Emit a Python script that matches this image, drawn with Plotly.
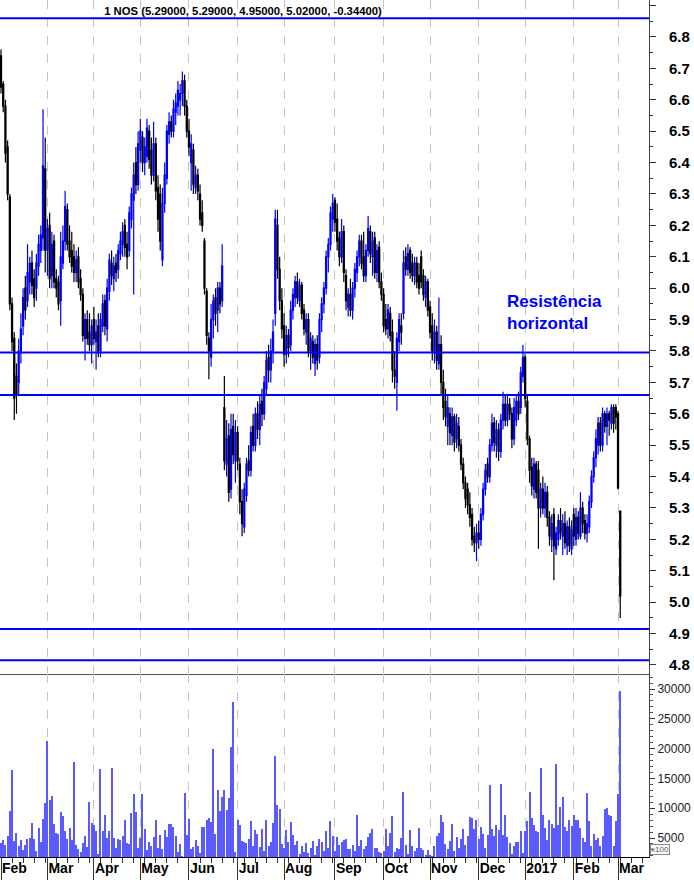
import pandas as pd
import plotly.graph_objects as go

# ---------------- data ----------------
open_ = [
 6.74,6.65,6.58,6.45,6.29,5.95,5.84,5.72,5.70,5.80,5.88,6.00,5.96,6.02,6.08,6.03,6.00,6.07,6.12,6.16,6.38,
 6.12,6.20,6.04,6.15,6.03,6.02,5.96,6.08,6.15,6.25,6.15,6.12,6.10,6.05,6.10,6.03,5.98,5.84,5.90,5.86,5.82,
 5.90,5.83,5.88,5.80,5.88,5.96,5.87,5.99,6.08,6.03,6.08,6.06,6.11,6.14,6.20,6.14,6.12,6.22,6.28,6.40,6.33,
 6.44,6.48,6.40,6.42,6.50,6.44,6.36,6.46,6.32,6.30,6.09,6.27,6.35,6.49,6.53,6.50,6.56,6.58,6.60,6.62,6.66,6.58,
 6.50,6.40,6.44,6.32,6.36,6.30,6.24,6.15,5.99,5.84,5.78,5.90,5.97,5.93,6.00,5.96,5.62,5.44,5.53,5.36,5.56,5.45,
 5.54,5.44,5.32,5.24,5.34,5.45,5.42,5.56,5.50,5.60,5.55,5.64,5.60,5.68,5.78,5.74,5.80,5.92,6.20,6.06,5.96,
 5.88,5.79,5.85,5.82,5.93,5.97,6.02,5.96,6.01,5.93,5.86,5.90,5.80,5.83,5.76,5.82,5.78,5.90,5.95,6.00,6.10,6.14,6.22,
 6.28,6.22,6.16,6.10,6.18,6.04,5.94,5.98,5.93,6.00,6.05,6.10,6.15,6.10,6.04,6.12,6.18,6.10,6.16,6.05,6.13,6.02,
 5.98,5.90,5.87,5.92,5.86,5.74,5.70,5.83,5.88,5.92,6.10,6.06,6.12,6.08,6.04,6.08,6.04,6.10,6.04,5.97,6.02,
 5.94,5.88,5.80,5.86,5.76,5.82,5.70,5.64,5.56,5.60,5.53,5.59,5.52,5.56,5.50,5.44,5.38,5.36,5.31,5.28,5.21,5.19,
 5.22,5.20,5.28,5.36,5.44,5.40,5.50,5.57,5.50,5.55,5.48,5.58,5.63,5.58,5.63,5.60,5.52,5.58,5.64,5.62,5.72,
 5.78,5.64,5.52,5.43,5.36,5.44,5.42,5.30,5.36,5.30,5.35,5.27,5.20,5.28,5.17,5.20,5.26,5.21,5.25,5.18,5.24,5.17,
 5.28,5.20,5.27,5.21,5.30,5.26,5.22,5.24,5.32,5.40,5.46,5.50,5.57,5.50,5.60,5.56,5.60,5.57,5.62,5.62,
 5.60,5.29]
high = [
 6.76,6.66,6.60,6.47,6.30,5.97,5.86,5.76,5.84,5.92,6.00,6.04,6.14,6.10,6.12,6.06,6.11,6.17,6.20,6.57,6.48,
 6.22,6.24,6.18,6.17,6.06,6.04,6.18,6.20,6.31,6.27,6.20,6.18,6.14,6.12,6.13,6.06,6.00,5.92,5.93,5.92,5.90,
 5.94,5.90,5.92,5.92,5.98,5.98,6.03,6.11,6.12,6.10,6.11,6.14,6.18,6.21,6.22,6.18,6.26,6.32,6.40,6.45,6.50,
 6.54,6.50,6.48,6.54,6.52,6.48,6.53,6.48,6.36,6.33,6.32,6.40,6.52,6.56,6.55,6.60,6.62,6.66,6.65,6.69,6.68,6.60,
 6.54,6.49,6.46,6.39,6.38,6.33,6.28,6.16,6.00,5.86,5.95,5.98,6.00,6.02,6.02,6.14,5.72,5.58,5.57,5.60,5.60,5.58,
 5.56,5.46,5.36,5.38,5.46,5.50,5.56,5.60,5.62,5.64,5.66,5.68,5.72,5.80,5.82,5.84,5.90,6.25,6.25,6.10,6.00,
 5.92,5.88,5.87,5.96,6.00,6.04,6.05,6.03,6.02,5.95,5.92,5.92,5.86,5.85,5.84,5.85,5.92,5.97,6.02,6.12,6.16,6.26,6.30,
 6.29,6.27,6.18,6.22,6.20,6.06,6.00,6.03,6.02,6.08,6.12,6.17,6.17,6.18,6.14,6.23,6.20,6.18,6.18,6.14,6.15,6.05,
 6.00,5.95,5.95,5.94,5.90,5.80,5.86,5.92,5.92,6.12,6.13,6.14,6.13,6.11,6.10,6.10,6.08,6.12,6.06,6.04,6.03,
 5.96,5.92,5.90,5.88,5.97,5.85,5.74,5.68,5.66,5.62,5.62,5.60,5.60,5.59,5.52,5.46,5.40,5.38,5.35,5.30,5.24,5.25,
 5.26,5.30,5.38,5.44,5.46,5.52,5.60,5.59,5.58,5.57,5.60,5.67,5.66,5.66,5.65,5.62,5.65,5.66,5.67,5.75,5.82,
 5.79,5.66,5.53,5.46,5.46,5.45,5.45,5.38,5.40,5.38,5.37,5.29,5.28,5.30,5.24,5.28,5.30,5.28,5.29,5.26,5.27,5.26,
 5.30,5.30,5.29,5.35,5.32,5.28,5.28,5.34,5.42,5.48,5.55,5.59,5.59,5.62,5.61,5.62,5.61,5.63,5.63,5.63,
 5.61,5.29]
low = [
 6.62,6.56,6.40,6.28,5.93,5.80,5.58,5.60,5.66,5.76,5.85,5.90,5.94,5.98,5.98,5.94,5.96,6.04,6.08,6.12,6.05,
 6.04,6.00,6.00,6.00,5.97,5.93,5.88,6.06,6.12,6.12,6.08,6.05,6.02,6.02,6.00,5.96,5.83,5.77,5.82,5.80,5.76,
 5.82,5.74,5.78,5.78,5.86,5.85,5.83,5.96,6.01,5.99,6.02,6.03,6.09,6.10,6.10,6.06,6.10,6.19,5.98,6.30,6.31,
 6.40,6.37,6.36,6.40,6.38,6.33,6.34,6.28,6.18,6.12,6.07,6.24,6.33,6.46,6.48,6.48,6.52,6.55,6.55,6.58,6.55,6.48,
 6.42,6.31,6.30,6.30,6.28,6.20,6.18,5.98,5.82,5.71,5.75,5.84,5.88,5.86,5.92,5.94,5.42,5.40,5.32,5.33,5.44,5.38,
 5.42,5.28,5.21,5.22,5.32,5.40,5.40,5.48,5.48,5.52,5.50,5.56,5.58,5.66,5.70,5.70,5.76,5.88,6.03,5.93,5.84,
 5.75,5.76,5.78,5.80,5.90,5.94,5.95,5.94,5.90,5.85,5.82,5.78,5.74,5.76,5.72,5.74,5.76,5.86,5.92,5.98,6.05,6.12,6.18,
 6.18,6.12,6.07,6.08,6.02,5.93,5.91,5.91,5.90,5.97,6.02,6.07,6.06,6.02,6.02,6.10,6.08,6.04,6.03,6.02,6.00,5.96,
 5.86,5.85,5.84,5.83,5.70,5.68,5.61,5.80,5.82,5.90,6.04,6.04,6.03,6.02,6.01,6.00,5.98,6.00,5.96,5.94,5.91,
 5.84,5.77,5.76,5.74,5.74,5.66,5.58,5.56,5.50,5.50,5.50,5.48,5.49,5.48,5.42,5.36,5.30,5.28,5.24,5.18,5.16,5.13,
 5.17,5.18,5.26,5.34,5.38,5.38,5.48,5.48,5.46,5.45,5.46,5.55,5.56,5.56,5.58,5.49,5.50,5.56,5.58,5.60,5.70,
 5.62,5.50,5.38,5.34,5.33,5.33,5.17,5.27,5.28,5.27,5.24,5.18,5.16,5.07,5.15,5.18,5.20,5.15,5.17,5.15,5.16,5.15,
 5.18,5.18,5.20,5.20,5.22,5.20,5.19,5.22,5.30,5.38,5.43,5.47,5.48,5.48,5.54,5.50,5.53,5.55,5.54,5.55,
 5.36,4.95]
close = [
 6.64,6.58,6.43,6.30,5.95,5.83,5.65,5.66,5.80,5.87,5.97,5.93,6.05,6.08,6.01,5.97,6.08,6.14,6.17,6.39,6.12,
 6.19,6.03,6.14,6.02,6.00,5.95,6.10,6.15,6.26,6.14,6.10,6.07,6.05,6.09,6.02,5.98,5.85,5.90,5.84,5.82,5.88,
 5.84,5.86,5.80,5.90,5.95,5.88,6.00,6.09,6.04,6.07,6.05,6.12,6.15,6.18,6.13,6.10,6.24,6.30,6.36,6.33,6.46,
 6.50,6.40,6.45,6.51,6.41,6.36,6.46,6.31,6.22,6.15,6.27,6.36,6.50,6.53,6.50,6.57,6.59,6.63,6.62,6.66,6.58,6.50,
 6.45,6.46,6.33,6.36,6.31,6.22,6.20,6.00,5.85,5.80,5.90,5.96,5.92,6.00,5.95,6.07,5.45,5.52,5.35,5.55,5.47,5.54,
 5.45,5.32,5.25,5.36,5.44,5.42,5.54,5.50,5.60,5.55,5.63,5.60,5.70,5.77,5.74,5.80,5.86,6.22,6.06,5.96,5.87,
 5.79,5.85,5.81,5.93,5.98,6.02,5.97,6.01,5.92,5.87,5.90,5.80,5.84,5.78,5.82,5.77,5.90,5.95,6.00,6.10,6.14,6.24,6.27,
 6.21,6.15,6.10,6.18,6.05,5.96,5.98,5.93,6.00,6.06,6.10,6.15,6.08,6.04,6.12,6.19,6.11,6.15,6.05,6.12,6.02,5.98,
 5.88,5.87,5.93,5.85,5.74,5.72,5.84,5.90,5.86,6.08,6.06,6.11,6.05,6.04,6.08,6.02,6.00,6.02,5.98,6.02,5.93,
 5.86,5.80,5.86,5.77,5.82,5.70,5.62,5.59,5.62,5.54,5.59,5.51,5.57,5.50,5.44,5.38,5.33,5.31,5.27,5.20,5.19,5.22,
 5.20,5.28,5.36,5.42,5.40,5.50,5.57,5.51,5.55,5.48,5.58,5.63,5.58,5.63,5.60,5.52,5.62,5.64,5.60,5.73,5.78,
 5.65,5.52,5.42,5.37,5.44,5.35,5.30,5.36,5.30,5.35,5.27,5.21,5.25,5.18,5.22,5.26,5.22,5.25,5.19,5.24,5.18,5.23,
 5.21,5.27,5.22,5.30,5.25,5.22,5.25,5.32,5.40,5.46,5.52,5.57,5.50,5.60,5.56,5.60,5.58,5.62,5.57,5.59,
 5.364,5.02]
volume = [
 4200,4600,3900,5300,9500,16400,4500,5800,3600,4700,3000,3900,4800,5000,7600,4900,2800,6600,4300,8200,10800,
 21200,11400,12000,7400,5800,5700,9400,8700,6100,4800,6700,4600,17800,3900,3200,2700,4200,5400,3500,11000,7500,
 7100,6200,2300,16500,6200,8900,5000,6100,16700,5000,3400,4900,4700,5300,8100,4200,4000,9200,12400,9300,3300,
 5000,12400,6500,3000,4300,3700,5100,8000,3400,5500,3100,6400,5200,7400,7400,6800,5400,2600,4000,2000,12600,5500,
 8200,3200,3500,4600,3600,2500,6900,6900,8100,8400,7700,19900,5600,13100,9600,11800,13000,9700,11700,20300,27900,2600,
 8000,7100,4500,4300,4200,4900,7900,3600,6400,5600,3500,6500,2800,8000,3600,4300,7500,18800,10600,9900,4000,
 3400,6300,4300,7700,5500,3800,4500,2300,3600,2700,4100,2500,3300,4500,2200,3600,4900,4300,2800,6200,3300,7800,5400,
 2800,5100,3900,4400,4600,4900,3200,3100,3800,2800,8800,3700,4600,3100,3600,5200,5800,6500,3300,3400,2700,2500,
 2900,6500,3700,5800,8700,2700,3400,3200,5000,12800,3900,2300,6400,3700,2900,3400,6600,3400,3000,2200,3000,
 2200,1900,3700,5300,5900,8800,7700,4000,3100,4500,7300,2900,5100,3400,4800,6500,3900,5400,8600,8400,6500,8100,
 4900,6800,5700,3400,5500,13900,6500,5400,7100,6300,14100,5500,8800,5100,4200,2400,3700,4400,4300,6100,2500,
 6200,7800,12700,8300,7100,6100,6000,16700,8800,6700,4600,8100,7300,6600,17500,7200,10200,11900,6900,6100,8100,7000,
 8900,8100,8100,6600,5000,4400,12500,7800,3600,5600,4600,5000,3700,5400,9900,10000,8800,8700,3700,7900,
 12300,29700]
resistance_levels = [6.86, 5.795, 5.66, 4.915, 4.815]
tick_labels = ["Feb", "Mar", "Apr", "May", "Jun", "Jul", "Aug", "Sep", "Oct", "Nov", "Dec", "2017", "Feb", "Mar"]
volume_ticks = [5000, 10000, 15000, 20000, 25000, 30000]
holidays = ["2016-03-25", "2016-03-28", "2016-12-26"]
annotation_text = "Resistência<br>horizontal"

# ---------------- derived ----------------
days = [d for d in pd.bdate_range("2016-02-01", "2017-03-02") if d.strftime("%Y-%m-%d") not in holidays]
n = len(days)
idx = list(range(n))
month_starts = [i for i, d in enumerate(days) if i == 0 or d.month != days[i - 1].month]

title_text = "1 NOS ({:.5f}, {:.5f}, {:.5f}, {:.5f}, {:.5f})".format(
    open_[-1], high[-1], low[-1], close[-1], close[-1] - close[-2])

BLUE = "#0000ff"
fig = go.Figure()
fig.add_trace(go.Candlestick(
    x=idx, open=open_, high=high, low=low, close=close,
    increasing=dict(line=dict(color=BLUE, width=1.2), fillcolor="#ffffff"),
    decreasing=dict(line=dict(color="#000000", width=1.2), fillcolor="#000000"),
    whiskerwidth=0, showlegend=False, hoverinfo="skip",
    xaxis="x", yaxis="y"))
fig.add_trace(go.Bar(
    x=idx, y=volume, marker=dict(color="#5a5aff", line=dict(width=0)), width=0.5,
    showlegend=False, hoverinfo="skip", xaxis="x2", yaxis="y2"))

for lvl in resistance_levels:
    fig.add_shape(type="line", xref="x domain", x0=0, x1=1, yref="y", y0=lvl, y1=lvl,
                  line=dict(color=BLUE, width=2), layer="above")

split = (857 - 674) / 857
grid = dict(showgrid=True, gridcolor="#c4c4c4", griddash="dash", gridwidth=1)
fig.update_layout(
    width=694, height=880,
    margin=dict(l=0, r=45, t=0, b=23, autoexpand=False),
    paper_bgcolor="white", plot_bgcolor="white",
    font=dict(family="Liberation Sans, Arial, sans-serif", color="#000000"),
    title=dict(text=title_text, x=243 / 694, xref="container", xanchor="center",
               y=1 - 11 / 880, yref="container", yanchor="middle", automargin=False,
               font=dict(family="Liberation Sans, Arial, sans-serif", size=11.3,
                         weight="bold", color="#000000")),
    xaxis=dict(domain=[0, 1], anchor="y", range=[-0.45, 293.0], tickmode="array",
               tickvals=month_starts, showticklabels=False, ticks="", automargin=False,
               showline=True, linecolor="#555555", linewidth=1,
               rangeslider=dict(visible=False), zeroline=False, **grid),
    yaxis=dict(domain=[split, 1], anchor="x", side="right", range=[4.7713, 6.9178],
               tick0=4.8, dtick=0.1, tickformat=".1f", ticks="outside", ticklen=6,
               tickcolor="#333333", showgrid=False, zeroline=False, automargin=False,
               showline=True, linecolor="#444444", linewidth=1, ticklabelstandoff=10,
               minor=dict(dtick=0.05, ticks="outside", ticklen=3, tickcolor="#333333"),
               tickfont=dict(size=15, weight="bold", color="#000000")),
    xaxis2=dict(domain=[0, 1], anchor="y2", range=[-0.45, 293.0], tickmode="array",
                tickvals=month_starts, ticktext=tick_labels, ticks="outside", ticklen=23,
                tickcolor="#333333", ticklabelposition="outside right", ticklabelstandoff=-2,
                tickfont=dict(size=14, weight="bold", color="#000000"), automargin=False,
                showline=True, linecolor="#000000", linewidth=1, zeroline=False,
                minor=dict(dtick=5, tick0=0, ticks="outside", ticklen=5, tickcolor="#333333"),
                **grid),
    yaxis2=dict(domain=[0, split], anchor="x2", side="right", range=[1812, 32517],
                tickmode="array", tickvals=volume_ticks, tickformat="d",
                ticks="outside", ticklen=5, tickcolor="#333333", showgrid=False, zeroline=False,
                showline=True, linecolor="#444444", linewidth=1, automargin=False,
                minor=dict(dtick=1000, ticks="outside", ticklen=3, tickcolor="#555555"),
                tickfont=dict(size=12, color="#222222")),
    bargap=0,
)

fig.add_annotation(x=228, y=5.921, xref="x", yref="y", xanchor="left", yanchor="middle",
                   align="left", text=annotation_text, showarrow=False,
                   font=dict(size=17, weight="bold", color=BLUE,
                             family="Liberation Sans, Arial, sans-serif"))
fig.add_annotation(x=1, y=0, xref="paper", yref="paper", xanchor="left", yanchor="bottom",
                   text="x100", showarrow=False, xshift=1, yshift=2,
                   font=dict(size=8, color="#555555"), bordercolor="#888888",
                   borderwidth=1, borderpad=0)

fig.write_html("out.html", config={"displayModeBar": False},
               post_script="document.body.style.margin='0';document.body.style.padding='0';")
